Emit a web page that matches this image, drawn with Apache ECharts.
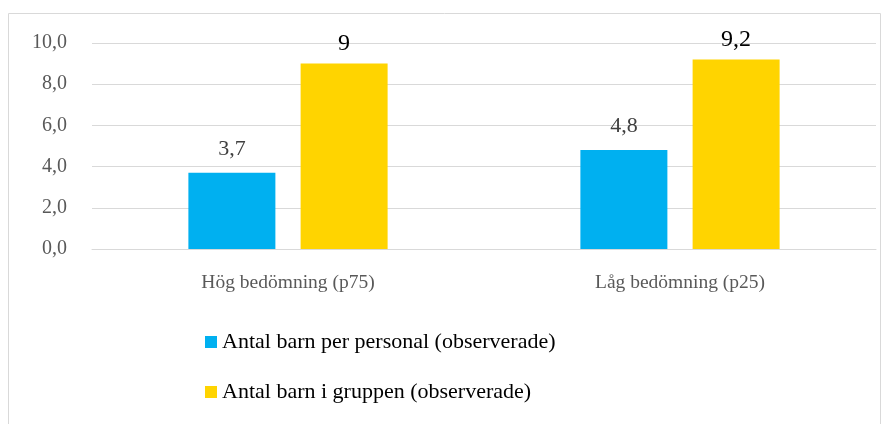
<!DOCTYPE html>
<html><head><meta charset="utf-8">
<script src="https://cdn.jsdelivr.net/npm/echarts@6/dist/echarts.min.js"></script>
<style>html,body{margin:0;padding:0;background:#fff}#c{width:891px;height:424px}</style>
</head><body><div id="c"></div>
<script>
const categories = ['Hög bedömning (p75)', 'Låg bedömning (p25)'];
const seriesNames = ['Antal barn per personal (observerade)', 'Antal barn i gruppen (observerade)'];
const perPersonal = [3.7, 4.8];
const iGruppen = [9, 9.2];
const yTicks = [0, 2, 4, 6, 8, 10];

const FONT = '"Liberation Serif", "DejaVu Serif", serif';
const fmtNum = v => String(v).replace('.', ',');
const chart = echarts.init(document.getElementById('c'));
chart.setOption({
  animation: false,
  graphic: [{type: 'rect', shape: {x: 8.5, y: 13.5, width: 872, height: 430}, style: {fill: 'none', stroke: '#d9d9d9', lineWidth: 1}, silent: true}],
  grid: {left: 92, right: 15, top: 43, bottom: 175, containLabel: false},
  legend: {
    orient: 'vertical', left: 200, top: 326, itemWidth: 12, itemHeight: 12, itemGap: 28,
    icon: 'rect', textStyle: {fontFamily: FONT, fontSize: 22, color: '#000'},
    data: seriesNames
  },
  xAxis: {
    type: 'category', data: categories,
    axisLine: {show: true, lineStyle: {color: '#d9d9d9'}}, axisTick: {show: false},
    axisLabel: {fontFamily: FONT, fontSize: 19.5, color: '#595959', margin: 24}
  },
  yAxis: {
    type: 'value', min: yTicks[0], max: yTicks[yTicks.length - 1], interval: 2,
    axisLine: {show: false}, axisTick: {show: false},
    splitLine: {lineStyle: {color: '#d9d9d9', width: 1}},
    axisLabel: {fontFamily: FONT, fontSize: 20, color: '#595959', margin: 25, formatter: v => v.toFixed(1).replace('.', ',')}
  },
  series: [
    {name: seriesNames[0], type: 'bar', data: perPersonal, barWidth: 87, barGap: '29%',
     itemStyle: {color: '#00B0F0'},
     label: {show: true, position: 'top', distance: 13, fontFamily: FONT, fontSize: 22, color: '#404040', formatter: p => fmtNum(p.value)}},
    {name: seriesNames[1], type: 'bar', data: iGruppen, barWidth: 87,
     itemStyle: {color: '#FFD400'},
     label: {show: true, position: 'top', distance: 8, fontFamily: FONT, fontSize: 24, color: '#000', formatter: p => fmtNum(p.value)}}
  ]
});
</script></body></html>
